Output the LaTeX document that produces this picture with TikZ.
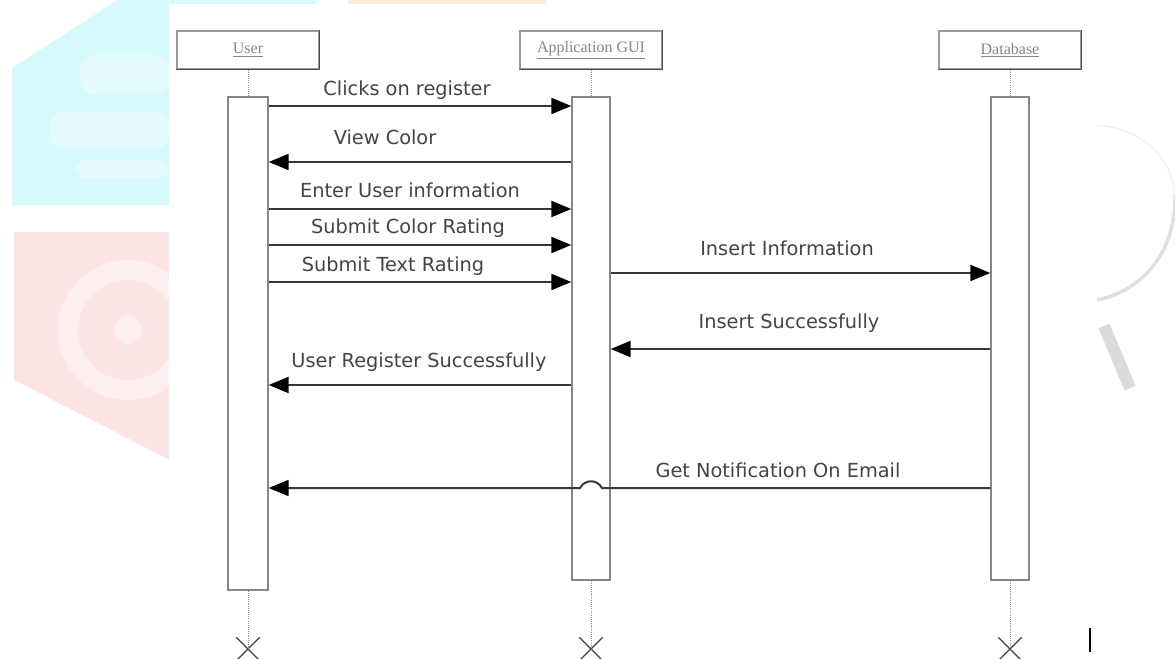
\documentclass[tikz,border=0pt]{standalone}
\usepackage{fontspec}
\setmainfont{DejaVu Sans}
\newfontfamily\hdrfont{Liberation Serif}
\usetikzlibrary{arrows.meta,shapes.misc,calc}
\definecolor{wmcyan}{HTML}{D6F9FC}
\definecolor{wmcyanlt}{HTML}{E4FBFD}
\definecolor{wmpink}{HTML}{FCE4E4}
\definecolor{wmpinklt}{HTML}{FDEFEF}
\definecolor{wmorange}{HTML}{FDEBD9}
\definecolor{msgcol}{HTML}{383838}
\definecolor{txtcol}{HTML}{444444}
\begin{document}
\begin{tikzpicture}[x=0.75pt,y=-0.75pt,
  hdr/.style={draw=gray!80, line width=0.9pt, fill=white, minimum width=106.5pt,
    minimum height=28.5pt, inner sep=0pt, font=\hdrfont\fontsize{12}{14}\selectfont, text=gray!95},
  actbox/.style={draw=gray!95, line width=1pt, fill=white, inner sep=0pt},
  life/.style={draw=gray!85, line width=0.7pt, dash pattern=on 0.8pt off 0.8pt},
  msg/.style={draw=msgcol, line width=1.5pt, -{Triangle[length=15pt,width=12pt,color=black]}},
  msgtxt/.style={text=txtcol, font=\fontsize{14.5}{17}\selectfont, inner sep=0pt},
  xmark/.style={cross out, draw=black!75, line width=1pt, minimum width=16.5pt,
    minimum height=16.5pt, inner sep=0pt},
  shadowline/.style={draw=gray!60!black, line width=1.1pt}
]
\useasboundingbox (0,0) rectangle (1175,658);
\fill[white] (0,0) rectangle (1175,658);

% ---- faded watermark background ----
\fill[wmcyan] (12,205) -- (12,68) -- (118,0) -- (316,0) -- (316,205) -- cycle;
\fill[wmcyanlt, rounded corners=10pt] (50,112) rectangle (170,148);
\fill[wmcyanlt, rounded corners=8pt] (75,160) rectangle (170,178);
\fill[wmcyanlt, rounded corners=12pt] (80,55) rectangle (170,95);
\fill[wmpink] (14,232) -- (170,232) -- (170,460) -- (14,380) -- cycle;
\fill[wmpinklt] (128,330) circle[radius=70];
\fill[wmpink] (128,330) circle[radius=50];
\fill[wmpinklt] (128,330) circle[radius=14];
\fill[wmorange] (348,0) rectangle (546,5);
\draw[gray!25, line width=2.5pt] (1097,300) .. controls (1145,290) and (1176,250) .. (1175,195);
\draw[gray!12, line width=1pt] (1175,195) .. controls (1170,150) and (1135,128) .. (1097,125);
\draw[gray!28, line width=9pt] (1104,326) -- (1130,388);

% ---- white panel ----
\fill[white] (169,4) rectangle (1095,658);

% ---- participants ----
\node[hdr] (uh) at (248,50) {\underline{User}};
\node[hdr] (gh) at (591,50) {\underline{Application GUI}};
\node[hdr] (dh) at (1010,50) {\underline{Database}};
\foreach \h in {uh,gh,dh}{
  \draw[shadowline] (\h.south west) -- (\h.south east) -- (\h.north east);
}

\node[actbox, minimum width=30pt, minimum height=369.75pt] (ua) at (248,343.5) {};
\node[actbox, minimum width=28.5pt, minimum height=362.25pt] (ga) at (591,338.5) {};
\node[actbox, minimum width=28.5pt, minimum height=362.25pt] (da) at (1010,338.5) {};

\node[xmark] (ux) at (248,649) {};
\node[xmark] (gx) at (591,649) {};
\node[xmark] (dx) at (1010,649) {};

\draw[life] (uh.south) -- (ua.north);
\draw[life] (gh.south) -- (ga.north);
\draw[life] (dh.south) -- (da.north);
\draw[life] (ua.south) -- (ux.center);
\draw[life] (ga.south) -- (gx.center);
\draw[life] (da.south) -- (dx.center);

% ---- messages ----
\draw[msg] (ua.east |- 0,106) -- (ga.west |- 0,106);
\node[msgtxt] (t1) at (407,90) {Clicks on register};
\draw[msg] (ga.west |- 0,162) -- (ua.east |- 0,162);
\node[msgtxt] (t2) at (385,137) {View Color};
\draw[msg] (ua.east |- 0,209) -- (ga.west |- 0,209);
\node[msgtxt] (t3) at (410,190) {Enter User information};
\draw[msg] (ua.east |- 0,245) -- (ga.west |- 0,245);
\node[msgtxt] (t4) at (408,228) {Submit Color Rating};
\draw[msg] (ua.east |- 0,282) -- (ga.west |- 0,282);
\node[msgtxt] (t5) at (393,266) {Submit Text Rating};
\draw[msg] (ga.east |- 0,273) -- (da.west |- 0,273);
\node[msgtxt] (t6) at (787,248) {Insert Information};
\draw[msg] (da.west |- 0,349) -- (ga.east |- 0,349);
\node[msgtxt] (t7) at (789,323) {Insert Successfully};
\draw[msg] (ga.west |- 0,385) -- (ua.east |- 0,385);
\node[msgtxt] (t8) at (419,362) {User Register Successfully};
\draw[msg] (da.west |- 0,488) -- ($(ga.center |- 0,488)+(11,0)$)
  .. controls ($(ga.center |- 0,488)+(6,-9)$) and ($(ga.center |- 0,488)+(-6,-9)$) ..
  ($(ga.center |- 0,488)+(-11,0)$) -- (ua.east |- 0,488);
\node[msgtxt] (t9) at (778,470) {Get Notification On Email};

% stray mark at bottom right
\draw[black, line width=1.5pt] (1090,628) -- (1090,652);
\end{tikzpicture}
\end{document}
